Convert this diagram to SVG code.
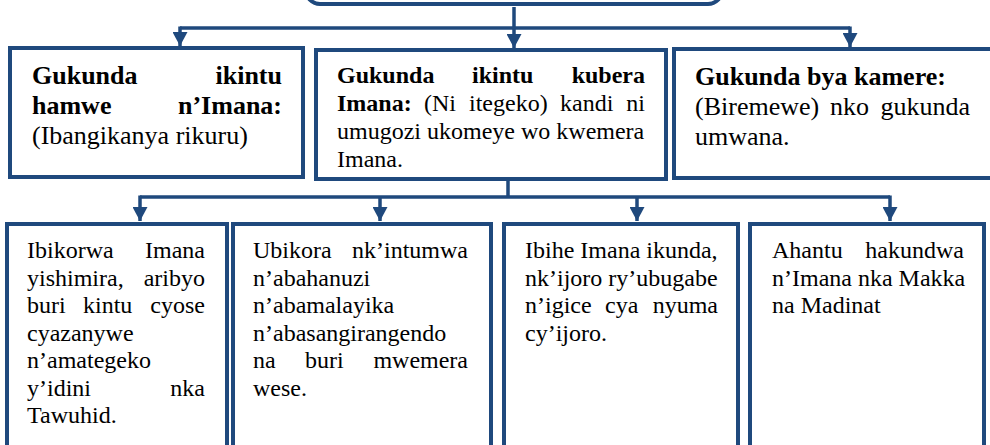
<svg xmlns="http://www.w3.org/2000/svg" width="990" height="445" viewBox="0 0 990 445">
<style>
.box{fill:#fff;stroke:#1F497D;stroke-width:4}
.conn{fill:none;stroke:#1F497D;stroke-width:3.5}
.t{font-family:"Liberation Serif","Times New Roman",serif;fill:#000}
.s26{font-size:26px}
.s24{font-size:24px}
.b{font-weight:bold}
.e{text-anchor:end}
</style>
<defs>
<marker id="ah" markerUnits="userSpaceOnUse" markerWidth="15" markerHeight="15" refX="14" refY="7.5" orient="auto" viewBox="0 0 15 15">
<path d="M0,0 L14,7.5 L0,15 z" fill="#1F497D"/>
</marker>
</defs>
<rect width="990" height="445" fill="#fff"/>

<g id="connectors">
<path class="conn" d="M514,7 V28"/>
<path class="conn" d="M180,28 H850"/>
<path class="conn" d="M180,26.5 V46" marker-end="url(#ah)"/>
<path class="conn" d="M514,28 V48" marker-end="url(#ah)"/>
<path class="conn" d="M850,26.5 V47" marker-end="url(#ah)"/>
<path class="conn" d="M508,180 V197"/>
<path class="conn" d="M140,197 H890"/>
<path class="conn" d="M140,195.5 V221" marker-end="url(#ah)"/>
<path class="conn" d="M380,197 V221" marker-end="url(#ah)"/>
<path class="conn" d="M637,197 V221" marker-end="url(#ah)"/>
<path class="conn" d="M890,195.5 V221" marker-end="url(#ah)"/>
</g>

<g id="root">
<rect class="box" x="306" y="-40" width="416" height="44" rx="14"/>
</g>

<g id="nodeA">
<rect class="box" x="10" y="48" width="293" height="129"/>
<text class="t s26 b" x="32" y="84">Gukunda</text>
<text class="t s26 b e" x="282" y="84">ikintu</text>
<text class="t s26 b" x="32" y="114">hamwe</text>
<text class="t s26 b e" x="282" y="114">n’Imana:</text>
<text class="t s26" x="32" y="144">(Ibangikanya rikuru)</text>
</g>

<g id="nodeB">
<rect class="box" x="316" y="50" width="350" height="129"/>
<text class="t s24 b" x="337" y="83">Gukunda</text>
<text class="t s24 b" x="472" y="83">ikintu</text>
<text class="t s24 b e" x="645" y="83">kubera</text>
<text class="t s24 b" x="337" y="111">Imana:</text>
<text class="t s24" x="424" y="111">(Ni</text>
<text class="t s24" x="469" y="111">itegeko)</text>
<text class="t s24" x="560" y="111">kandi</text>
<text class="t s24 e" x="645" y="111">ni</text>
<text class="t s24" x="337" y="139">umugozi ukomeye wo kwemera</text>
<text class="t s24" x="337" y="167">Imana.</text>
</g>

<g id="nodeC">
<rect class="box" x="674" y="49" width="330" height="129"/>
<text class="t s26 b" x="695" y="85">Gukunda bya kamere:</text>
<text class="t s26" x="695" y="115">(Biremewe)</text>
<text class="t s26" x="830" y="115">nko</text>
<text class="t s26 e" x="970" y="115">gukunda</text>
<text class="t s26" x="695" y="145">umwana.</text>
</g>

<g id="nodeD">
<rect class="box" x="7" y="224" width="220" height="240"/>
<text class="t s24" x="27" y="258">Ibikorwa</text>
<text class="t s24 e" x="205" y="258">Imana</text>
<text class="t s24" x="27" y="286">yishimira,</text>
<text class="t s24 e" x="205" y="286">aribyo</text>
<text class="t s24" x="27" y="313">buri</text>
<text class="t s24" x="83" y="313">kintu</text>
<text class="t s24 e" x="205" y="313">cyose</text>
<text class="t s24" x="27" y="341">cyazanywe</text>
<text class="t s24" x="27" y="368">n’amategeko</text>
<text class="t s24" x="27" y="396">y’idini</text>
<text class="t s24 e" x="205" y="396">nka</text>
<text class="t s24" x="27" y="423">Tawuhid.</text>
</g>

<g id="nodeE">
<rect class="box" x="233" y="224" width="258" height="240"/>
<text class="t s24" x="253" y="258">Ubikora</text>
<text class="t s24 e" x="468" y="258">nk’intumwa</text>
<text class="t s24" x="253" y="286">n’abahanuzi</text>
<text class="t s24" x="253" y="313">n’abamalayika</text>
<text class="t s24" x="253" y="341">n’abasangirangendo</text>
<text class="t s24" x="253" y="368">na</text>
<text class="t s24" x="305" y="368">buri</text>
<text class="t s24 e" x="468" y="368">mwemera</text>
<text class="t s24" x="253" y="396">wese.</text>
</g>

<g id="nodeF">
<rect class="box" x="504" y="224" width="234" height="240"/>
<text class="t s24" x="525" y="258">Ibihe Imana ikunda,</text>
<text class="t s24" x="525" y="286">nk’ijoro ry’ubugabe</text>
<text class="t s24" x="525" y="313">n’igice</text>
<text class="t s24" x="605" y="313">cya</text>
<text class="t s24 e" x="718" y="313">nyuma</text>
<text class="t s24" x="525" y="341">cy’ijoro.</text>
</g>

<g id="nodeG">
<rect class="box" x="750" y="224" width="234" height="240"/>
<text class="t s24" x="772" y="258">Ahantu</text>
<text class="t s24 e" x="964" y="258">hakundwa</text>
<text class="t s24" x="772" y="286">n’Imana nka Makka</text>
<text class="t s24" x="772" y="313">na Madinat</text>
</g>
</svg>
